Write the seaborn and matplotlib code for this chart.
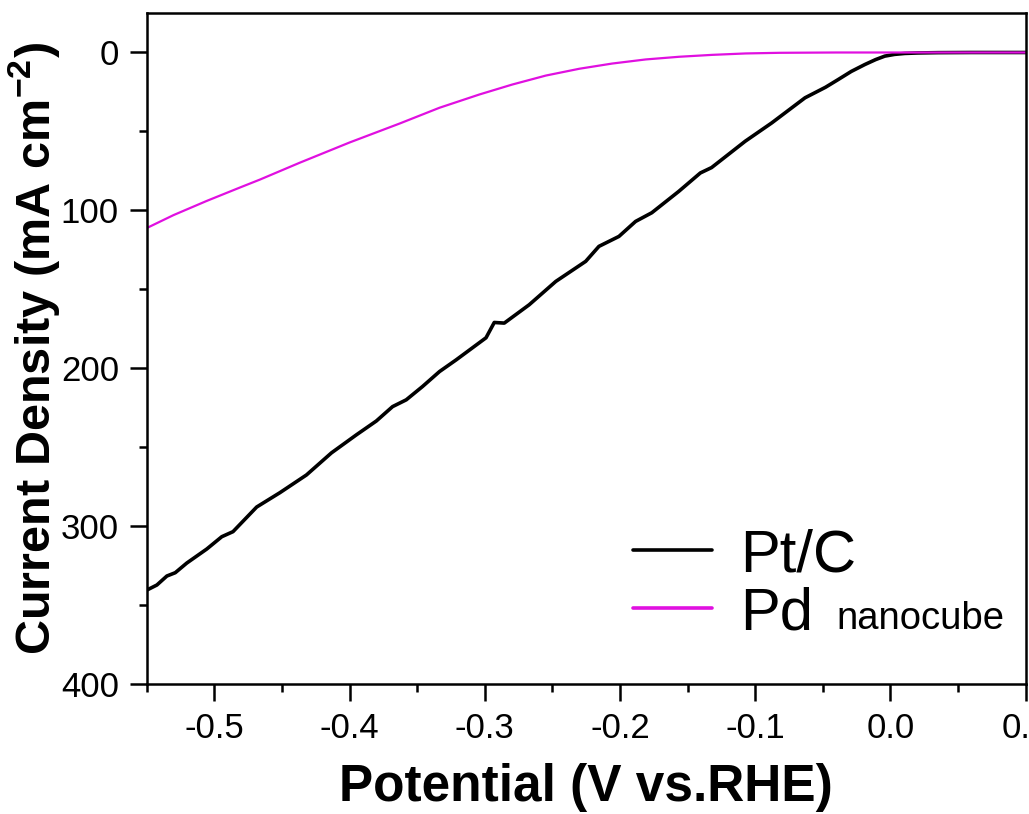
import numpy as np
import pandas as pd
import seaborn as sns
import matplotlib
matplotlib.use("Agg")
import matplotlib.pyplot as plt
from matplotlib.ticker import MultipleLocator

# ---- data ----
pt_potential = [-0.5499, -0.5425, -0.5351, -0.5289, -0.5204, -0.5056, -0.4945, -0.4862,
                -0.4687, -0.4515, -0.4319, -0.4134, -0.3950, -0.3802, -0.3682, -0.3581,
                -0.3461, -0.3335, -0.3212, -0.3092, -0.2991, -0.2930, -0.2856, -0.2672,
                -0.2475, -0.2254, -0.2156, -0.2008, -0.1885, -0.1765, -0.1566, -0.1406,
                -0.1323, -0.1074, -0.0878, -0.0632, -0.0480, -0.0386, -0.0290, -0.0189,
                -0.0110, -0.0042, 0.0030, 0.0106, 0.0200, 0.0351, 0.0600, 0.1000]
pt_current = [340.5, 337.3, 331.6, 329.5, 323.4, 314.5, 306.7, 303.5,
              287.9, 278.8, 267.6, 253.6, 242.2, 233.4, 224.3, 220.0,
              211.6, 202.1, 194.7, 187.1, 180.7, 171.0, 171.4, 159.8,
              145.0, 132.3, 122.8, 116.5, 107.0, 101.5, 88.0, 76.3,
              72.9, 56.2, 44.6, 28.7, 22.0, 17.1, 12.0, 7.6,
              4.5, 2.3, 1.2, 0.6, 0.3, 0.1, 0.0, 0.0]

pd_potential = [-0.5500, -0.5302, -0.5056, -0.4810, -0.4663, -0.4368, -0.4000, -0.3630,
                -0.3335, -0.3040, -0.2797, -0.2548, -0.2301, -0.2058, -0.1810, -0.1562,
                -0.1318, -0.1070, -0.0822, -0.0400, 0.0000, 0.0500, 0.1000]
pd_current = [111.2, 103.0, 94.0, 85.5, 80.5, 69.8, 57.0, 45.0,
              35.0, 26.6, 20.3, 14.6, 10.3, 7.0, 4.4, 2.7,
              1.5, 0.6, 0.2, 0.0, 0.0, 0.0, 0.0]

series_names = ["Pt/C", "Pd"]
series_colors = ["#000000", "#e010e0"]
x_ticks = [-0.5, -0.4, -0.3, -0.2, -0.1, 0.0, 0.1]
y_ticks = [0, 100, 200, 300, 400]

sns.set_theme(style="ticks")
plt.rcParams["font.family"] = ["Liberation Sans", "DejaVu Sans"]
plt.rcParams["mathtext.fontset"] = "custom"
plt.rcParams["mathtext.rm"] = "Liberation Sans"
plt.rcParams["mathtext.bf"] = "Liberation Sans:bold"
for k in ["text.color", "axes.labelcolor", "xtick.color", "ytick.color",
          "xtick.labelcolor", "ytick.labelcolor", "axes.edgecolor"]:
    plt.rcParams[k] = "black"

fig = plt.figure(figsize=(10.29, 8.14), dpi=100)
ax = fig.add_axes([0.1426, 0.1597, 0.9968 - 0.1426, 0.984 - 0.1597])

df_pt = pd.DataFrame({"Potential": pt_potential, "Current": pt_current})
df_pd = pd.DataFrame({"Potential": pd_potential, "Current": pd_current})
sns.lineplot(data=df_pt, x="Potential", y="Current", ax=ax, color=series_colors[0],
             lw=2.6, sort=False, estimator=None, label=series_names[0])
sns.lineplot(data=df_pd, x="Potential", y="Current", ax=ax, color=series_colors[1],
             lw=1.6, sort=False, estimator=None, label=series_names[1])

ax.set_xlim(-0.55, 0.1)
ax.set_ylim(400, -25)
ax.set_xticks(x_ticks)
ax.set_xticklabels([f"{v:.1f}" for v in x_ticks])
ax.set_yticks(y_ticks)
ax.set_yticklabels([str(v) for v in y_ticks])
ax.xaxis.set_minor_locator(MultipleLocator(0.05))
ax.yaxis.set_minor_locator(MultipleLocator(50))
ax.tick_params(axis="both", which="major", direction="out", length=12, width=1.8,
               labelsize=25, pad=8)
ax.tick_params(axis="both", which="minor", direction="out", length=6, width=1.8)
ax.tick_params(top=False, right=False, which="both")
for s in ax.spines.values():
    s.set_linewidth(1.8)
    s.set_color("black")

ax.set_xlabel("Potential (V vs.RHE)", fontsize=37, fontweight="bold", labelpad=13)
ax.set_ylabel(r"Current Density (mA cm$\mathbf{^{-2}}$)", fontsize=35,
              fontweight="bold", labelpad=-1)

leg = ax.legend(loc="upper left", bbox_to_anchor=(0.553, 0.232), frameon=False,
                fontsize=43, handlelength=1.32, handletextpad=0.47, labelspacing=0.05,
                borderaxespad=0, borderpad=0)
for line in leg.get_lines():
    line.set_linewidth(2.6)

fig.canvas.draw()
renderer = fig.canvas.get_renderer()
pd_text = leg.get_texts()[1]
bb = pd_text.get_window_extent(renderer)
_, _, desc = renderer.get_text_width_height_descent("lp", pd_text.get_fontproperties(), ismath=False)
baseline = bb.y0 + desc
fig.text((bb.x1 + 24) / fig.bbox.width, baseline / fig.bbox.height, "nanocube",
         fontsize=27.5, va="baseline", ha="left")

fig.savefig("out.png", dpi=100)
